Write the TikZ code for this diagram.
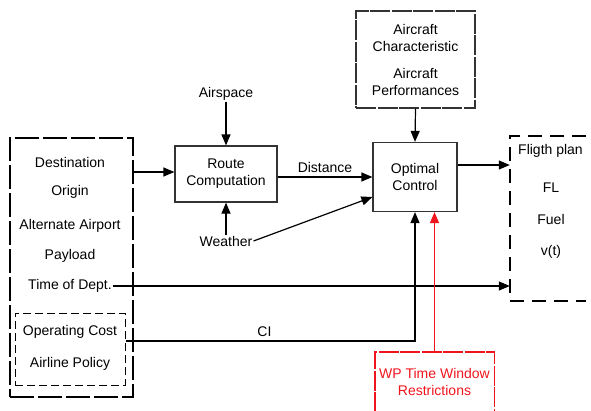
\documentclass[tikz,border=0pt]{standalone}
\usepackage{fontspec}
\setmainfont{Liberation Sans}
\usepackage{xcolor}
\usepackage{tikz}
\usetikzlibrary{arrows.meta, positioning}
\definecolor{wpred}{RGB}{240,20,30}

\begin{document}
\begin{tikzpicture}[
  x=1pt, y=-1pt,
  font=\fontsize{14}{17}\selectfont,
  block/.style  = {rectangle, draw=black!80, line width=1.2pt, align=center},
  label/.style  = {inner sep=1pt, align=center},
  arrow/.style  = {-{Triangle[length=11pt, width=9pt]}, line width=1.2pt},
]
  \useasboundingbox (0,0) rectangle (591,410);

  % inputs on the left
  \node[draw, line width=2.4pt, dash pattern=on 24pt off 4pt,
        minimum width=123pt, minimum height=259pt] (inputs) at (71.5,267.5) {};
  \node[draw, line width=1pt, dash pattern=on 8pt off 4pt,
        minimum width=110pt, minimum height=72pt] (costs) at (70,349) {};
  \node[label] (dest)   at (70,162) {Destination};
  \node[label] (orig)   at (70,192) {Origin};
  \node[label] (alt)    at (70,226) {Alternate Airport};
  \node[label] (pay)    at (70,256) {Payload};
  \node[label] (dept)   at (70,286) {Time of Dept.};
  \node[label] (opcost) at (70,332) {Operating Cost};
  \node[label] (policy) at (70,364) {Airline Policy};

  % route computation
  \node[block, minimum width=102pt, minimum height=56pt] (route) at (226,174)
       {Route\\Computation};
  \node[label] (airspace) at (226,94)  {Airspace};
  \node[label] (weather)  at (226,241) {Weather};

  % optimal control
  \node[block, minimum width=84pt, minimum height=69pt] (opt) at (415,177)
       {Optimal\\Control};
  \node[block, dash pattern=on 20pt off 1.5pt,
        minimum width=119pt, minimum height=97pt] (aircraft) at (415.5,59.5)
       {Aircraft\\Characteristic\\[10pt]Aircraft\\Performances};

  % flight plan output
  \node[minimum width=76pt, minimum height=165pt] (plan) at (548,218.5) {};
  \draw[line width=2.2pt, dash pattern=on 14pt off 8pt]
       (plan.north east) -- (plan.north west) -- (plan.south west) -- (plan.south east);
  \node[label, anchor=west] (title) at (517,151) {Fligth plan};
  \node[label] (fl)   at (551,188) {FL};
  \node[label] (fuel) at (551,219) {Fuel};
  \node[label] (vt)   at (551,252) {v(t)};

  % time window restrictions
  \node[minimum width=119pt, minimum height=60pt, text=wpred, align=center,
        inner sep=0pt] (wp) at (434.5,382) {WP Time Window\\Restrictions};
  \draw[color=wpred, line width=1.4pt, dash pattern=on 20pt off 1.5pt]
       (wp.south west) -- (wp.north west) -- (wp.north east) -- (wp.south east);

  \draw[arrow] (inputs.east |- 0,172) -- (route.west |- 0,172);
  \draw[arrow] (airspace) -- (route.north);
  \draw[arrow] (weather) -- (route.south);
  \draw[arrow] (route.east |- opt) -- node[above] {Distance} (opt.west);
  \draw[arrow] (weather.east) -- ([yshift=-20pt]opt.west);
  \draw[arrow] (aircraft.south) -- (opt.north);
  \draw[arrow] ([yshift=12pt]opt.east) -- ([yshift=12pt]opt.east -| plan.west);
  \draw[arrow] (dept.east) -- (dept.east -| plan.west);
  \draw[arrow] ([yshift=8pt]costs.east) -| node[above, pos=0.24] {CI} (opt.south);
  \draw[arrow, color=wpred, line width=1.4pt] (wp.north) -- (wp.north |- opt.south);
\end{tikzpicture}
\end{document}
